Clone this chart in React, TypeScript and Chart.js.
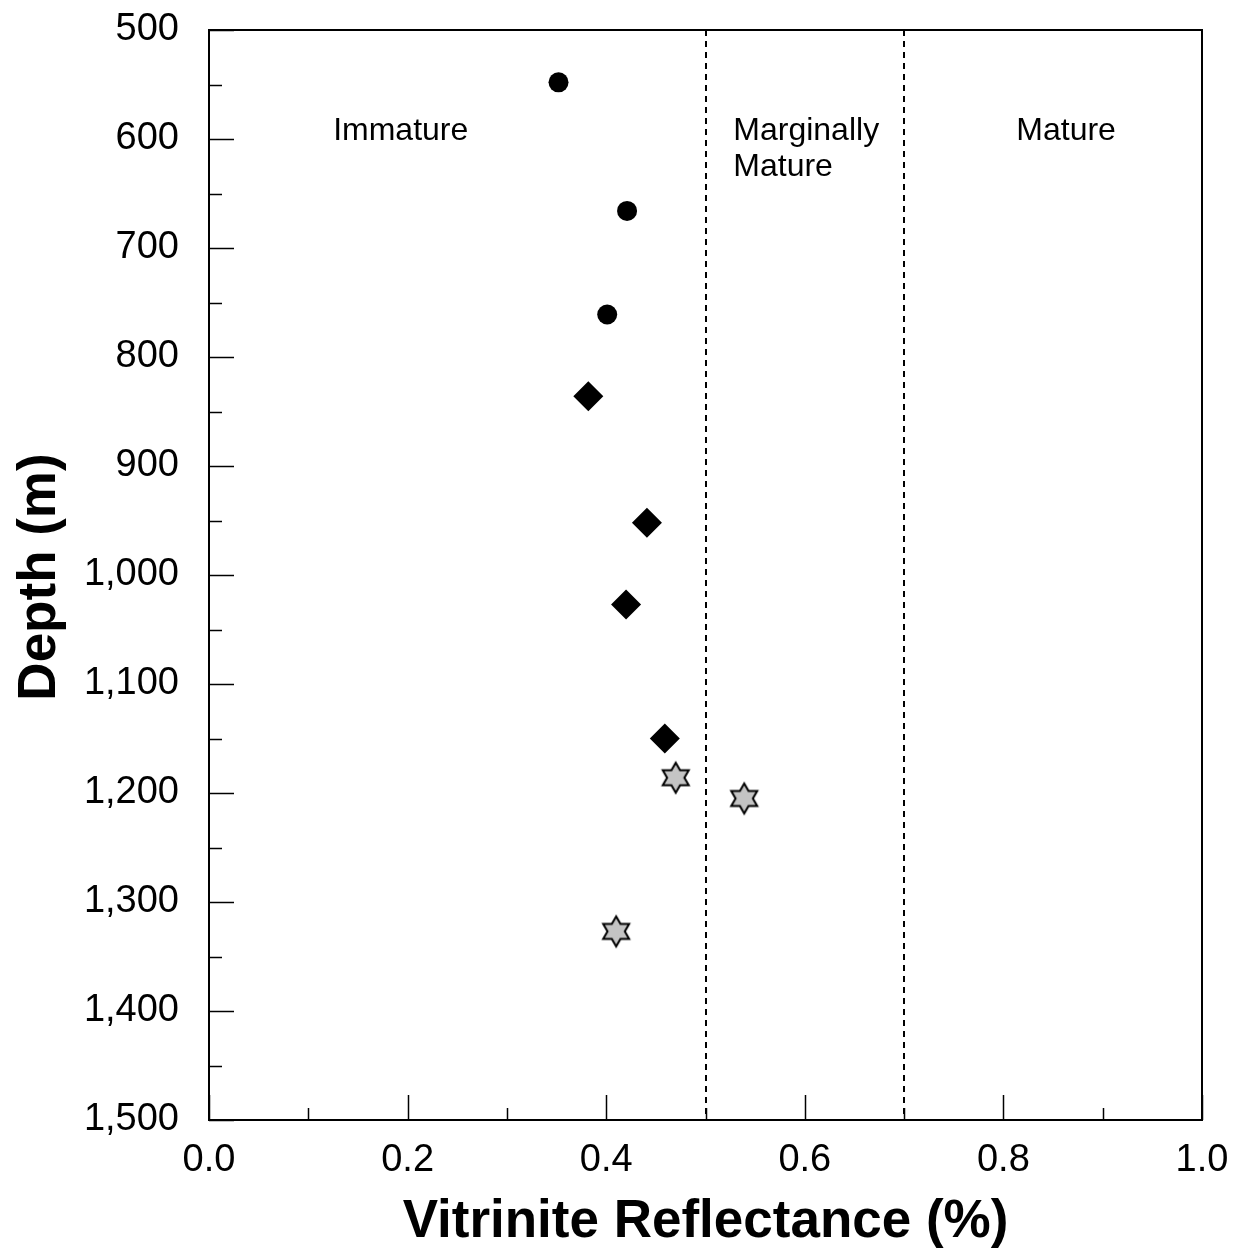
import React, { useEffect, useRef } from "react";
import { Chart, registerables } from "chart.js";

Chart.register(...registerables);

// ---- Data ----
const circleReflectance = [0.352, 0.421, 0.401];
const circleDepth = [548, 666, 761];

const diamondReflectance = [0.382, 0.441, 0.42, 0.459];
const diamondDepth = [836, 952, 1027, 1150];

const starReflectance = [0.47, 0.539, 0.41];
const starDepth = [1186, 1205, 1327];

const maturityBoundaries = [0.5, 0.7];

const zoneLabels = ["Immature", "Marginally\nMature", "Mature"];
const zoneLabelX = [0.125, 0.528, 0.813];
const zoneLabelDepth = [593, 593, 593];

const xTitle = "Vitrinite Reflectance (%)";
const yTitle = "Depth (m)";

const FONT = 'Arial, "Liberation Sans", sans-serif';

function makeStar(): HTMLCanvasElement {
  const c = document.createElement("canvas");
  c.width = 36;
  c.height = 36;
  const ctx = c.getContext("2d")!;
  const cx = 18, cy = 18, R = 15, r = R / Math.sqrt(3);
  ctx.beginPath();
  for (let i = 0; i < 12; i++) {
    const ang = -Math.PI / 2 + (i * Math.PI) / 6;
    const rad = i % 2 === 0 ? R : r;
    const px = cx + rad * Math.cos(ang);
    const py = cy + rad * Math.sin(ang);
    if (i === 0) ctx.moveTo(px, py);
    else ctx.lineTo(px, py);
  }
  ctx.closePath();
  ctx.fillStyle = "#c4c4c4";
  ctx.fill();
  ctx.lineWidth = 2;
  ctx.strokeStyle = "#000";
  ctx.stroke();
  return c;
}

const framePlugin = {
  id: "frameAndNotes",
  beforeDatasetsDraw(chart: any) {
    const { ctx, chartArea } = chart;
    const xs = chart.scales.x;
    ctx.save();
    ctx.strokeStyle = "#000";
    ctx.lineWidth = 2;
    ctx.setLineDash([6, 5]);
    maturityBoundaries.forEach((v) => {
      const px = Math.round(xs.getPixelForValue(v));
      ctx.beginPath();
      ctx.moveTo(px, chartArea.top);
      ctx.lineTo(px, chartArea.bottom);
      ctx.stroke();
    });
    ctx.setLineDash([]);
    ctx.fillStyle = "#000";
    ctx.font = `32px ${FONT}`;
    ctx.textAlign = "left";
    ctx.textBaseline = "middle";
    const ys = chart.scales.y;
    zoneLabels.forEach((label, i) => {
      const px = xs.getPixelForValue(zoneLabelX[i]);
      const py = ys.getPixelForValue(zoneLabelDepth[i]);
      label.split("\n").forEach((line, j) => {
        ctx.fillText(line, px, py + j * 36);
      });
    });
    ctx.restore();
  },
  afterDatasetsDraw(chart: any) {
    const { ctx, chartArea } = chart;
    const { left, right, top, bottom } = chartArea;
    const xs = chart.scales.x;
    const ys = chart.scales.y;
    ctx.save();
    ctx.strokeStyle = "#000";
    ctx.lineWidth = 2;
    ctx.beginPath();
    ctx.moveTo(left, top);
    ctx.lineTo(right, top);
    ctx.lineTo(right, bottom);
    ctx.lineTo(left, bottom);
    ctx.closePath();
    ctx.stroke();

    ctx.lineWidth = 1.5;
    // y ticks (major every 100, minor every 50)
    for (let d = 500; d <= 1500; d += 50) {
      const py = Math.round(ys.getPixelForValue(d)) + 0.5;
      const len = d % 100 === 0 ? 25 : 13;
      ctx.beginPath();
      ctx.moveTo(left, py);
      ctx.lineTo(left + len, py);
      ctx.stroke();
    }
    // x ticks (major every 0.2, minor every 0.1)
    for (let i = 0; i <= 10; i++) {
      const px = Math.round(xs.getPixelForValue(i / 10)) + 0.5;
      const len = i % 2 === 0 ? 25 : 12;
      ctx.beginPath();
      ctx.moveTo(px, bottom);
      ctx.lineTo(px, bottom - len);
      ctx.stroke();
    }

    // axis titles
    ctx.fillStyle = "#000";
    ctx.font = `bold 53px ${FONT}`;
    ctx.textAlign = "center";
    ctx.textBaseline = "alphabetic";
    ctx.fillText(xTitle, (left + right) / 2, 1237);
    ctx.translate(55, (top + bottom) / 2 + 2);
    ctx.rotate(-Math.PI / 2);
    ctx.fillText(yTitle, 0, 0);
    ctx.restore();
  },
};

export default function App() {
  const ref = useRef<HTMLCanvasElement | null>(null);

  useEffect(() => {
    if (!ref.current) return;
    const star = makeStar();
    const chart = new Chart(ref.current, {
      type: "scatter",
      data: {
        datasets: [
          {
            label: "Circles",
            data: circleReflectance.map((x, i) => ({ x, y: circleDepth[i] })),
            pointStyle: "circle",
            pointRadius: 10,
            backgroundColor: "#000",
            borderColor: "#000",
            borderWidth: 0,
          },
          {
            label: "Diamonds",
            data: diamondReflectance.map((x, i) => ({ x, y: diamondDepth[i] })),
            pointStyle: "rectRot",
            pointRadius: 15,
            backgroundColor: "#000",
            borderColor: "#000",
            borderWidth: 0,
          },
          {
            label: "Stars",
            data: starReflectance.map((x, i) => ({ x, y: starDepth[i] })),
            pointStyle: star as any,
            pointRadius: 15,
            backgroundColor: "#c4c4c4",
            borderColor: "#000",
          },
        ],
      },
      options: {
        animation: false,
        responsive: true,
        maintainAspectRatio: false,
        layout: { padding: { top: 30, right: 34, left: 0, bottom: 0 } },
        plugins: {
          legend: { display: false },
          tooltip: { enabled: false },
        },
        scales: {
          x: {
            type: "linear",
            min: 0,
            max: 1,
            grid: { display: false, drawTicks: false },
            border: { display: false },
            ticks: {
              stepSize: 0.2,
              padding: 18,
              color: "#000",
              font: { family: FONT, size: 38 },
              maxRotation: 0,
              callback: (v: any) => Number(v).toFixed(1),
            },
            afterFit: (scale: any) => {
              scale.height = 130;
              scale.paddingLeft = 0;
              scale.paddingRight = 0;
            },
          },
          y: {
            type: "linear",
            min: 500,
            max: 1500,
            reverse: true,
            grid: { display: false, drawTicks: false },
            border: { display: false },
            ticks: {
              stepSize: 100,
              padding: 30,
              color: "#000",
              font: { family: FONT, size: 38 },
              callback: (v: any) => Number(v).toLocaleString("en-US"),
            },
            afterFit: (scale: any) => {
              scale.width = 209;
              scale.paddingTop = 0;
              scale.paddingBottom = 0;
            },
          },
        },
      },
      plugins: [framePlugin],
    });
    return () => chart.destroy();
  }, []);

  return (
    <div style={{ position: "absolute", left: 0, top: 0, width: 1236, height: 1250, background: "#fff" }}>
      <canvas ref={ref} />
    </div>
  );
}
